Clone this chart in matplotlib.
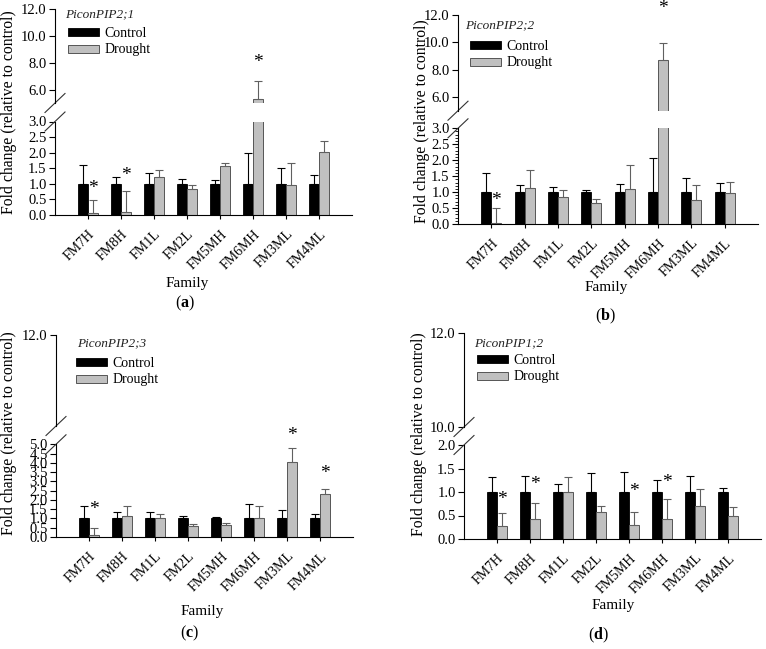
import numpy as np
import matplotlib.pyplot as plt

plt.rcParams['font.family'] = ['Liberation Serif', 'DejaVu Serif']
plt.rcParams['mathtext.fontset'] = 'custom'
plt.rcParams['mathtext.rm'] = 'Liberation Serif'
plt.rcParams['mathtext.bf'] = 'Liberation Serif:bold'

families = ["FM7H", "FM8H", "FM1L", "FM2L", "FM5MH", "FM6MH", "FM3ML", "FM4ML"]

# (a) PiconPIP2;1
ctrl_a = [1.0, 1.0, 1.0, 1.0, 1.0, 1.0, 1.0, 1.0]
ctrl_sd_a = [0.62, 0.23, 0.35, 0.17, 0.11, 0.98, 0.51, 0.27]
drought_a = [0.05, 0.085, 1.23, 0.82, 1.57, 5.30, 0.96, 2.03]
drought_sd_a = [0.43, 0.69, 0.20, 0.13, 0.09, 1.36, 0.71, 0.35]
stars_a = {0: 0.86, 1: 1.28, 5: 8.0}

# (b) PiconPIP2;2
ctrl_b = [1.0, 1.0, 1.0, 1.0, 1.0, 1.0, 1.0, 1.0]
ctrl_sd_b = [0.61, 0.22, 0.17, 0.08, 0.25, 1.06, 0.43, 0.30]
drought_b = [0.04, 1.12, 0.86, 0.65, 1.09, 8.68, 0.75, 0.98]
drought_sd_b = [0.47, 0.56, 0.20, 0.12, 0.77, 1.25, 0.46, 0.34]
stars_b = {0: 0.75, 5: 12.45}

# (c) PiconPIP2;3
ctrl_c = [1.0, 1.0, 1.0, 1.0, 1.0, 1.0, 1.0, 1.0]
ctrl_sd_c = [0.68, 0.37, 0.37, 0.14, 0.10, 0.78, 0.47, 0.25]
drought_c = [0.09, 1.12, 1.00, 0.60, 0.64, 1.04, 4.07, 2.30]
drought_sd_c = [0.37, 0.55, 0.23, 0.11, 0.10, 0.64, 0.73, 0.30]
stars_c = {0: 1.46, 6: 5.5, 7: 3.4}

# (d) PiconPIP1;2
ctrl_d = [1.0, 1.0, 1.0, 1.0, 1.0, 1.0, 1.0, 1.0]
ctrl_sd_d = [0.31, 0.35, 0.17, 0.40, 0.43, 0.25, 0.35, 0.09]
drought_d = [0.28, 0.42, 1.00, 0.57, 0.30, 0.43, 0.70, 0.50]
drought_sd_d = [0.28, 0.35, 0.31, 0.13, 0.27, 0.42, 0.36, 0.18]
stars_d = {0: 0.83, 1: 1.15, 4: 1.0, 5: 1.2}

W, H = 766, 649
fig = plt.figure(figsize=(W / 100, H / 100), dpi=100)


def px_box(l, t, r, b):
    return [l / W, 1 - b / H, (r - l) / W, (b - t) / H]


def draw_panel(geom, lo_lim, hi_lim, lo_step, hi_ticks, ctrl, ctrl_sd, drt, drt_sd,
               stars, gene, legend_xy, gene_xy, minor=None):
    l, r, hi_t, hi_b, lo_t, lo_b = geom
    ax_hi = fig.add_axes(px_box(l, hi_t, r, hi_b))
    ax_lo = fig.add_axes(px_box(l, lo_t, r, lo_b))
    x = np.arange(len(families))
    n = len(families)
    w = 0.3
    handles = []
    for ax in (ax_hi, ax_lo):
        bc = ax.bar(x - w / 2, ctrl, w, color='black', edgecolor='black', linewidth=0.6)
        bd = ax.bar(x + w / 2, drt, w, color='#c0c0c0', edgecolor='#555555', linewidth=0.7)
        ax.errorbar(x - w / 2, ctrl, yerr=[np.zeros(n), ctrl_sd], fmt='none',
                    ecolor='black', elinewidth=0.8, capsize=2.6, capthick=0.8)
        ax.errorbar(x + w / 2, drt, yerr=[np.zeros(n), drt_sd], fmt='none',
                    ecolor='#606060', elinewidth=0.8, capsize=2.6, capthick=0.8)
        ax.set_xlim(-1, n)
        ax.spines['top'].set_visible(False)
        ax.spines['right'].set_visible(False)
        ax.spines['left'].set_linewidth(0.8)
        ax.spines['bottom'].set_linewidth(0.8)
        ax.tick_params(axis='y', direction='out', length=4, width=0.8, labelsize=10.5, pad=2)
        ax.patch.set_alpha(0)
        if not handles:
            handles = [bc, bd]

    ax_hi.set_ylim(*hi_lim)
    ax_hi.set_yticks(hi_ticks)
    ax_hi.set_yticklabels([f"{t:.1f}" for t in hi_ticks])
    ax_hi.spines['bottom'].set_visible(False)
    ax_hi.set_xticks([])

    ax_lo.set_ylim(*lo_lim)
    lo_ticks = np.arange(lo_lim[0], lo_lim[1] + 0.001, lo_step)
    ax_lo.set_yticks(lo_ticks)
    ax_lo.set_yticklabels([f"{t:.1f}" for t in lo_ticks])
    if minor:
        ax_lo.set_yticks(np.arange(lo_lim[0], lo_lim[1] + 0.001, minor), minor=True)
        ax_lo.tick_params(axis='y', which='minor', direction='out', length=2, width=0.6)
    ax_lo.set_xticks(x)
    ax_lo.set_xticklabels(families, rotation=45, ha='right', va='top',
                          rotation_mode='anchor', fontsize=10)
    ax_lo.tick_params(axis='x', direction='out', length=3, width=0.8, pad=6)

    # break marks on the y axis
    dx = 10 / (r - l)
    dy_lo = 9.5 / (lo_b - lo_t)
    dy_hi = 9.5 / (hi_b - hi_t)
    ax_lo.plot([-dx, dx], [1 - dy_lo, 1 + dy_lo], transform=ax_lo.transAxes,
               clip_on=False, color='#333333', lw=0.8)
    ax_hi.plot([-dx, dx], [-dy_hi, dy_hi], transform=ax_hi.transAxes,
               clip_on=False, color='#333333', lw=0.8)

    for i, y in stars.items():
        ax = ax_lo if y < hi_lim[0] else ax_hi
        ax.text(i + w / 2, y, '*', ha='center', va='center', fontsize=14)

    fig.text(gene_xy[0] / W, 1 - gene_xy[1] / H, gene, style='italic',
             fontsize=9.5, ha='left', va='center', color='#222222')
    ax_hi.legend(handles, ['Control', 'Drought'], loc='upper left',
                 bbox_to_anchor=(legend_xy[0] / W, 1 - legend_xy[1] / H),
                 bbox_transform=fig.transFigure, frameon=False, fontsize=10,
                 handlelength=2.2, handleheight=0.5, handletextpad=0.4,
                 labelspacing=0.25, borderpad=0, borderaxespad=0)


draw_panel((55, 352, 9.3, 103, 121.5, 215), (0, 3), (5, 12), 0.5, [6, 8, 10, 12],
           ctrl_a, ctrl_sd_a, drought_a, drought_sd_a, stars_a, "PiconPIP2;1",
           (68, 27), (65, 14))
draw_panel((458, 758, 15, 110.7, 128.3, 224), (0, 3), (5, 12), 0.5, [6, 8, 10, 12],
           ctrl_b, ctrl_sd_b, drought_b, drought_sd_b, stars_b, "PiconPIP2;2",
           (470, 40), (465, 25), minor=0.1)
draw_panel((56, 353, 335, 426, 444.3, 537), (0, 5), (10, 12), 0.5, [12],
           ctrl_c, ctrl_sd_c, drought_c, drought_sd_c, stars_c, "PiconPIP2;3",
           (76, 357), (77, 343))
draw_panel((464, 761, 333, 427, 445, 539), (0, 2), (10, 12), 0.5, [10, 12],
           ctrl_d, ctrl_sd_d, drought_d, drought_sd_d, stars_d, "PiconPIP1;2",
           (477, 354), (474, 343))

ylab = "Fold change (relative to control)"
for (x, y) in [(9, 112), (422, 121), (9, 433), (419, 434)]:
    fig.text(x / W, 1 - y / H, ylab, rotation=90, ha='center', va='center', fontsize=11.3)

for (x, y) in [(187, 284), (606, 288), (202, 611), (613, 606)]:
    fig.text(x / W, 1 - y / H, "Family", ha='center', va='center', fontsize=11)

for (x, y, s) in [(185, 303, 'a'), (605, 316, 'b'), (190, 633, 'c'), (598, 635, 'd')]:
    fig.text(x / W, 1 - y / H, "(" + r"$\mathbf{" + s + "}$" + ")",
             ha='center', va='center', fontsize=11.5)

fig.savefig("out.png", dpi=100)
